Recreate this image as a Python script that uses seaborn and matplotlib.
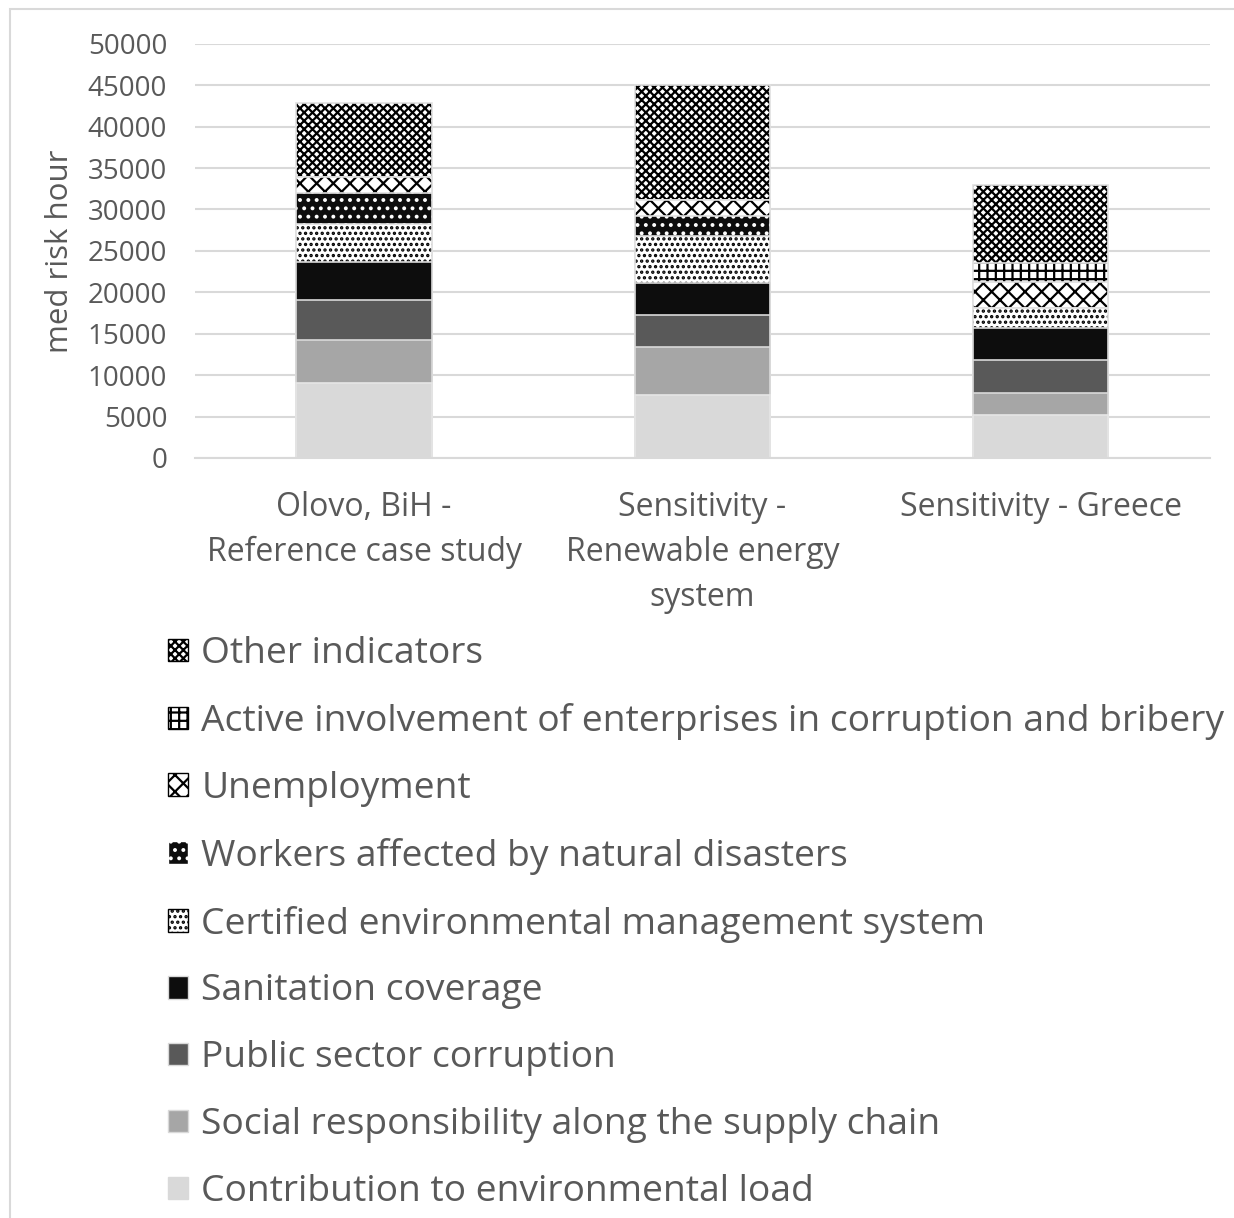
import pandas as pd
import numpy as np
import matplotlib
matplotlib.use("Agg")
import matplotlib.pyplot as plt
import matplotlib.patches as mpatches
import seaborn as sns

# Data (med risk hour)
categories = ["Olovo, BiH -\nReference case study",
              "Sensitivity -\nRenewable energy\nsystem",
              "Sensitivity - Greece"]
indicators = ["Contribution to environmental load",
              "Social responsibility along the supply chain",
              "Public sector corruption",
              "Sanitation coverage",
              "Certified environmental management system",
              "Workers affected by natural disasters",
              "Unemployment",
              "Active involvement of enterprises in corruption and bribery",
              "Other indicators"]
contribution = [9000, 7600, 5200]
social_resp = [5300, 5800, 2600]
public_corr = [4750, 3900, 4050]
sanitation = [4650, 3800, 3900]
certified = [4600, 5700, 2300]
workers = [3700, 2400, 0]
unemployment = [1900, 2000, 3150]
active_corr = [0, 0, 2300]
other = [9000, 13800, 9500]

series = [contribution, social_resp, public_corr, sanitation, certified,
          workers, unemployment, active_corr, other]

# face, hatch, hatch/edge colour per indicator
styles = [
    ("#d9d9d9", None, "#e6e6e6"),
    ("#a6a6a6", None, "#d9d9d9"),
    ("#595959", None, "#d9d9d9"),
    ("#0d0d0d", None, "#d9d9d9"),
    ("white", "...", "black"),
    ("#0d0d0d", "..", "white"),
    ("white", "xx", "black"),
    ("white", "++", "black"),
    ("white", "xxxx", "black"),
]

sns.set_theme(style="white")
plt.rcParams["font.family"] = ["Open Sans", "DejaVu Sans"]
plt.rcParams["hatch.linewidth"] = 1.6
text_color = "#595959"

fig = plt.figure(figsize=(12.34, 12.18), dpi=100)
ax = fig.add_axes([0.158, 0.624, 0.8225, 0.340])

cum = np.cumsum(np.array(series), axis=0)
df = pd.DataFrame({"category": categories})

# draw cumulative totals from the top layer down so each layer covers the rest
for i in range(len(series) - 1, -1, -1):
    face, hatch, edge = styles[i]
    n_before = len(ax.patches)
    df["value"] = cum[i]
    sns.barplot(data=df, x="category", y="value", color=face, width=0.4,
                saturation=1, ax=ax, order=categories)
    for p in ax.patches[n_before:]:
        p.set_facecolor(face)
        p.set_edgecolor(edge)
        p.set_linewidth(0 if hatch else 1.2)
        if hatch:
            p.set_hatch(hatch)
            # light outline on top of the hatched fill
            ax.add_patch(mpatches.Rectangle(p.get_xy(), p.get_width(), p.get_height(),
                                            fill=False, edgecolor="#e0e0e0",
                                            linewidth=1.2, zorder=p.get_zorder()))

ax.set_ylim(0, 50000)
ax.set_yticks(np.arange(0, 50001, 5000))
ax.yaxis.grid(True, color="#d9d9d9", linewidth=1.5)
ax.set_axisbelow(True)
for s in ["top", "right", "left"]:
    ax.spines[s].set_visible(False)
ax.spines["bottom"].set_color("#d9d9d9")
ax.spines["bottom"].set_linewidth(1.5)
ax.tick_params(axis="y", length=0, labelsize=20, colors=text_color, pad=20)
ax.tick_params(axis="x", length=0, labelsize=23, colors=text_color, pad=24)
for t in ax.get_xticklabels():
    t.set_linespacing(1.47)
ax.set_xlabel("")
ax.set_ylabel("med risk hour", fontsize=22.5, color=text_color, labelpad=9)

handles = []
for i in range(len(series) - 1, -1, -1):
    face, hatch, edge = styles[i]
    handles.append(mpatches.Patch(facecolor=face, edgecolor=edge if hatch else "#d9d9d9",
                                  hatch=hatch, label=indicators[i]))
leg = fig.legend(handles=handles, loc="upper left",
                 bbox_to_anchor=(168 / 1234, 1 - 636 / 1218), frameon=False,
                 borderpad=0, borderaxespad=0,
                 fontsize=26.8, handlelength=0.55, handleheight=0.55,
                 handletextpad=0.35, labelspacing=0.83)
for t in leg.get_texts():
    t.set_color(text_color)

# light outer border
fig.patches.append(mpatches.Rectangle((0.008, -0.01), 1.0, 1.003, transform=fig.transFigure,
                                      fill=False, edgecolor="#d9d9d9", linewidth=1.5))

fig.savefig("out.png", dpi=100)
